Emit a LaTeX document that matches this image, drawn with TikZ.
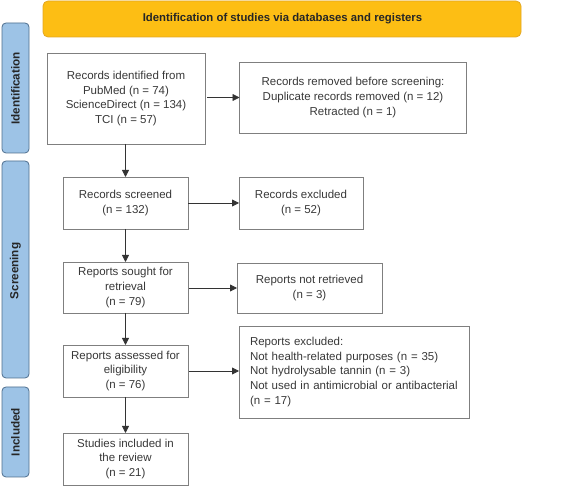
\documentclass[tikz,border=0pt]{standalone}
\usepackage{fontspec}
\setmainfont{Liberation Sans}
\usetikzlibrary{arrows.meta}
\definecolor{banner}{HTML}{FDBE14}
\definecolor{bannerdraw}{HTML}{E3A722}
\definecolor{side}{HTML}{9DC3E6}
\definecolor{sidedraw}{HTML}{4E6E8E}
\definecolor{boxdraw}{HTML}{7F7F7F}
\definecolor{txt}{HTML}{383838}
\begin{document}
\begin{tikzpicture}[x=1pt,y=-1pt,
  every node/.style={inner sep=0pt, outer sep=0pt, text=txt},
  box/.style={draw=boxdraw, line width=0.8pt, font=\fontsize{11.5}{14.7}\selectfont, align=center},
  sidebar/.style={draw=sidedraw, fill=side, line width=0.8pt, rounded corners=4pt},
  sidetext/.style={font=\bfseries\fontsize{11.7}{13}\selectfont, rotate=90, text=black!85},
  arr/.style={-{Triangle[length=7pt,width=7pt]}, line width=0.8pt, draw=black!80}]
\useasboundingbox (0,0) rectangle (566,486);
% banner
\draw[fill=banner, draw=bannerdraw, line width=0.8pt, rounded corners=5pt] (43,1) rectangle (521,37);
\node[font=\bfseries\fontsize{11.35}{13}\selectfont, text=black!85] (title) at (282.5,19) {Identification of studies via databases and registers};
% side bars
\draw[sidebar] (2,23) rectangle (29,153);
\node[sidetext] (sid1) at (15.5,88.5) {Identification};
\draw[sidebar] (2,161) rectangle (29,378);
\node[sidetext] (sid2) at (15.5,271) {Screening};
\draw[sidebar] (2,387) rectangle (29,477);
\node[sidetext] (sid3) at (15.5,432) {Included};
% boxes
\node[box, minimum width=158pt, minimum height=91pt] (b1) at (126,98.5) {Records identified from\\PubMed (n = 74)\\ScienceDirect (n = 134)\\TCI (n = 57)};
\node[box, minimum width=227pt, minimum height=71pt] (r1) at (353,97.5) {Records removed before screening:\\Duplicate records removed (n = 12)\\Retracted (n = 1)};
\node[box, minimum width=125pt, minimum height=52pt] (b2) at (125.5,203) {Records screened\\(n = 132)};
\node[box, minimum width=124pt, minimum height=52pt] (r2) at (301,203) {Records excluded\\(n = 52)};
\node[box, minimum width=125pt, minimum height=51pt] (b3) at (125.5,287.5) {Reports sought for\\retrieval\\(n = 79)};
\node[box, minimum width=145pt, minimum height=50pt] (r3) at (309.5,288) {Reports not retrieved\\(n = 3)};
\node[box, minimum width=125pt, minimum height=52pt] (b4) at (125.5,371) {Reports assessed for\\eligibility\\(n = 76)};
\node[box, minimum width=230pt, minimum height=92pt, align=left, text width=208pt] (r4) at (354,372) {Reports excluded:\\Not health-related purposes (n = 35)\\Not hydrolysable tannin (n = 3)\\Not used in antimicrobial or antibacterial\\(n = 17)};
\node[box, minimum width=125pt, minimum height=52pt] (b5) at (125.5,459) {Studies included in\\the review\\(n = 21)};
% arrows
\draw[arr] (b1.south -| b2.north) -- (b2.north);
\draw[arr] (b2) -- (b3);
\draw[arr] (b3) -- (b4);
\draw[arr] (b4) -- (b5);
\draw[arr] ([xshift=2pt]b1.east |- r1.west) -- (r1.west);
\draw[arr] (b2.east) -- (r2.west);
\draw[arr] ([xshift=1pt]b3.east |- r3.west) -- (r3.west);
\draw[arr] ([xshift=1pt]b4.east) -- (r4.west |- b4.east);
\end{tikzpicture}
\end{document}
